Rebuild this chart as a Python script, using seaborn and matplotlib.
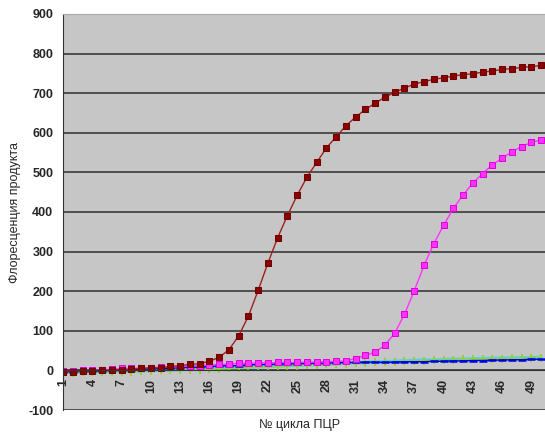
import numpy as np
import pandas as pd
import matplotlib
matplotlib.use("Agg")
import matplotlib.pyplot as plt
import seaborn as sns

# ── Data ──────────────────────────────────────────────────────────────────────
cycles = list(range(1, 51))

dark_red = [-3, -3, -1, -1, 0, 1, 2, 3, 5, 6,
            7, 10, 12, 15, 17, 23, 33, 52, 87, 137,
            202, 271, 335, 391, 442, 488, 525, 562, 590, 618,
            640, 659, 675, 690, 702, 713, 723, 729, 735, 739,
            743, 747, 749, 753, 756, 760, 762, 765, 767, 770]

magenta = [-2, -2, 0, 0, 1, 3, 5, 5, 6, 7,
           8, 9, 10, 11, 12, 14, 15, 16, 18, 18,
           19, 19, 20, 20, 20, 21, 21, 22, 23, 24,
           30, 38, 46, 64, 94, 142, 201, 265, 320, 366,
           409, 443, 473, 497, 519, 536, 552, 565, 576, 582]

blue = [-3, -4, -2, -2, -1, 0, 0, 2, 3, 4,
        5, 5, 7, 8, 8, 10, 11, 12, 12, 14,
        15, 15, 16, 17, 17, 18, 18, 19, 19, 20,
        20, 21, 21, 20, 21, 22, 22, 22, 23, 23,
        24, 24, 25, 25, 26, 26, 27, 27, 28, 28]

green = [-6, -6, -5, -5, -4, -4, -3, -3, -2, -1,
         0, 0, 1, 2, 2, 3, 4, 5, 6, 7,
         8, 9, 10, 11, 12, 13, 14, 15, 16, 17,
         18, 19, 20, 21, 22, 23, 24, 25, 26, 26,
         27, 28, 29, 29, 30, 30, 31, 31, 32, 32]

cyan = [-5, -5, -4, -4, -3, -3, -2, -2, -1, 0,
        1, 1, 2, 3, 3, 4, 5, 6, 7, 8,
        9, 10, 11, 12, 13, 14, 15, 16, 17, 18,
        19, 20, 21, 22, 23, 24, 25, 26, 26, 27,
        28, 28, 29, 30, 30, 31, 31, 32, 32, 33]

y_ticks = list(range(-100, 901, 100))
x_label_ticks = list(range(1, 51, 3))

# ── Plot ──────────────────────────────────────────────────────────────────────
sns.set_style("white")
plt.rcParams["font.family"] = ["Liberation Sans", "DejaVu Sans"]

fig = plt.figure(figsize=(5.45, 4.33), dpi=100)
ax = fig.add_axes([0.1156, 0.0531, 0.8844, 0.9146])
ax.set_facecolor("#C6C6C6")

# low-level curves first so the big ones sit on top
sns.lineplot(x=cycles, y=cyan, ax=ax, color="#00E5E5", linewidth=2.5, alpha=0.6)
sns.lineplot(x=cycles, y=green, ax=ax, color="#9ACD32", linewidth=1,
             marker="|", markersize=6, markeredgewidth=1.3, markeredgecolor="#9ACD32")
sns.lineplot(x=cycles, y=blue, ax=ax, color="#0000E0", linewidth=1,
             marker="_", markersize=6, markeredgewidth=1.8, markeredgecolor="#0000E0")
sns.lineplot(x=cycles, y=magenta, ax=ax, color="#FF33FF", linewidth=1,
             marker="s", markersize=4, markeredgecolor="#E000E0")
sns.lineplot(x=cycles, y=dark_red, ax=ax, color="#A02020", linewidth=1,
             marker="s", markersize=4, markerfacecolor="#8B0000", markeredgecolor="#700000")

ax.set_ylim(-100, 900)
ax.set_xlim(1, 50.4)
ax.set_yticks(y_ticks)
ax.set_yticklabels([str(v) for v in y_ticks], fontsize=9, fontweight="bold")
ax.yaxis.grid(True, color="#3A3A3A", linewidth=1.2)
ax.set_axisbelow(True)

# category axis crosses at zero, tick labels fall inside the plot area
ax.spines["bottom"].set_position(("data", 0))
ax.spines["bottom"].set_color("#333333")
ax.spines["left"].set_color("#333333")
ax.spines["top"].set_color("#A8A8A8")
ax.spines["right"].set_visible(False)
ax.set_xticks(x_label_ticks)
ax.set_xticks(cycles, minor=True)
ax.set_xticklabels([str(v) for v in x_label_ticks], rotation=90,
                   fontsize=9, fontweight="bold")
ax.tick_params(axis="x", which="both", direction="out", length=3, color="#333333", pad=3)
ax.tick_params(axis="y", direction="out", length=4, color="#333333", pad=3)

fig.text(0.55, 0.018, "№ цикла ПЦР", ha="center", va="center", fontsize=9)
fig.text(0.028, 0.51, "Флоресценция продукта", ha="center", va="center",
         rotation=90, fontsize=9)

fig.savefig("out.png", dpi=100)
